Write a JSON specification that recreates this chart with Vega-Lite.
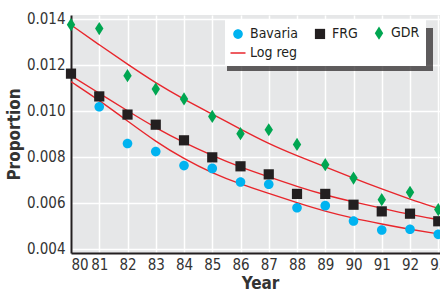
{
  "$schema": "https://vega.github.io/schema/vega-lite/v6.json",
  "autosize": {"type": "none"},
  "padding": {"left": 71, "top": 15, "right": 0, "bottom": 39},
  "width": 378,
  "height": 238,
  "background": "white",
  "config": {
    "font": "Liberation Sans Narrow, DejaVu Sans Condensed, Liberation Sans",
    "view": {"fill": "#e6e7e8", "stroke": null},
    "axis": {
      "grid": true,
      "gridColor": "#ffffff",
      "gridWidth": 1.5,
      "ticks": false,
      "domainColor": "#231f20",
      "domainWidth": 2,
      "labelFontSize": 15,
      "labelColor": "#333333",
      "titleFontSize": 17,
      "titleFontWeight": "bold",
      "titleColor": "#333333"
    }
  },
  "datasets": {
    "points": [
      {"year": 81, "series": "Bavaria", "value": 0.01017},
      {"year": 82, "series": "Bavaria", "value": 0.00857},
      {"year": 83, "series": "Bavaria", "value": 0.00822},
      {"year": 84, "series": "Bavaria", "value": 0.00761},
      {"year": 85, "series": "Bavaria", "value": 0.00749},
      {"year": 86, "series": "Bavaria", "value": 0.0069},
      {"year": 87, "series": "Bavaria", "value": 0.0068},
      {"year": 88, "series": "Bavaria", "value": 0.00578},
      {"year": 89, "series": "Bavaria", "value": 0.00587},
      {"year": 90, "series": "Bavaria", "value": 0.0052},
      {"year": 91, "series": "Bavaria", "value": 0.00481},
      {"year": 92, "series": "Bavaria", "value": 0.00484},
      {"year": 93, "series": "Bavaria", "value": 0.00462},
      {"year": 80, "series": "FRG", "value": 0.01161},
      {"year": 81, "series": "FRG", "value": 0.01062},
      {"year": 82, "series": "FRG", "value": 0.00983},
      {"year": 83, "series": "FRG", "value": 0.00939},
      {"year": 84, "series": "FRG", "value": 0.00871},
      {"year": 85, "series": "FRG", "value": 0.00797},
      {"year": 86, "series": "FRG", "value": 0.00758},
      {"year": 87, "series": "FRG", "value": 0.00723},
      {"year": 88, "series": "FRG", "value": 0.00638},
      {"year": 89, "series": "FRG", "value": 0.00638},
      {"year": 90, "series": "FRG", "value": 0.00591},
      {"year": 91, "series": "FRG", "value": 0.00562},
      {"year": 92, "series": "FRG", "value": 0.00552},
      {"year": 93, "series": "FRG", "value": 0.00519},
      {"year": 80, "series": "GDR", "value": 0.01374},
      {"year": 81, "series": "GDR", "value": 0.01357},
      {"year": 82, "series": "GDR", "value": 0.01152},
      {"year": 83, "series": "GDR", "value": 0.01094},
      {"year": 84, "series": "GDR", "value": 0.01051},
      {"year": 85, "series": "GDR", "value": 0.00975},
      {"year": 86, "series": "GDR", "value": 0.009},
      {"year": 87, "series": "GDR", "value": 0.00917},
      {"year": 88, "series": "GDR", "value": 0.00853},
      {"year": 89, "series": "GDR", "value": 0.00765},
      {"year": 90, "series": "GDR", "value": 0.00707},
      {"year": 91, "series": "GDR", "value": 0.00613},
      {"year": 92, "series": "GDR", "value": 0.00645},
      {"year": 93, "series": "GDR", "value": 0.0057}
    ],
    "fits": [
      {"year": 80, "series": "Bavaria", "value": 0.01126},
      {"year": 81, "series": "Bavaria", "value": 0.01045},
      {"year": 82, "series": "Bavaria", "value": 0.00955},
      {"year": 83, "series": "Bavaria", "value": 0.00865},
      {"year": 84, "series": "Bavaria", "value": 0.0079},
      {"year": 85, "series": "Bavaria", "value": 0.00728},
      {"year": 86, "series": "Bavaria", "value": 0.0068},
      {"year": 87, "series": "Bavaria", "value": 0.0064},
      {"year": 88, "series": "Bavaria", "value": 0.006},
      {"year": 89, "series": "Bavaria", "value": 0.00562},
      {"year": 90, "series": "Bavaria", "value": 0.00532},
      {"year": 91, "series": "Bavaria", "value": 0.00507},
      {"year": 92, "series": "Bavaria", "value": 0.00484},
      {"year": 93, "series": "Bavaria", "value": 0.00464},
      {"year": 80, "series": "FRG", "value": 0.01152},
      {"year": 81, "series": "FRG", "value": 0.01076},
      {"year": 82, "series": "FRG", "value": 0.00999},
      {"year": 83, "series": "FRG", "value": 0.00925},
      {"year": 84, "series": "FRG", "value": 0.00861},
      {"year": 85, "series": "FRG", "value": 0.00805},
      {"year": 86, "series": "FRG", "value": 0.00754},
      {"year": 87, "series": "FRG", "value": 0.00712},
      {"year": 88, "series": "FRG", "value": 0.0067},
      {"year": 89, "series": "FRG", "value": 0.00633},
      {"year": 90, "series": "FRG", "value": 0.00603},
      {"year": 91, "series": "FRG", "value": 0.00576},
      {"year": 92, "series": "FRG", "value": 0.00548},
      {"year": 93, "series": "FRG", "value": 0.00526},
      {"year": 80, "series": "GDR", "value": 0.01373},
      {"year": 81, "series": "GDR", "value": 0.01286},
      {"year": 82, "series": "GDR", "value": 0.01202},
      {"year": 83, "series": "GDR", "value": 0.0112},
      {"year": 84, "series": "GDR", "value": 0.01049},
      {"year": 85, "series": "GDR", "value": 0.00985},
      {"year": 86, "series": "GDR", "value": 0.0092},
      {"year": 87, "series": "GDR", "value": 0.00856},
      {"year": 88, "series": "GDR", "value": 0.00804},
      {"year": 89, "series": "GDR", "value": 0.00756},
      {"year": 90, "series": "GDR", "value": 0.00706},
      {"year": 91, "series": "GDR", "value": 0.00659},
      {"year": 92, "series": "GDR", "value": 0.00615},
      {"year": 93, "series": "GDR", "value": 0.00575}
    ]
  },
  "encoding": {
    "x": {
      "field": "year",
      "type": "quantitative",
      "title": "Year",
      "scale": {"domain": [80, 93.38], "nice": false, "zero": false},
      "axis": {"values": [80, 81, 82, 83, 84, 85, 86, 87, 88, 89, 90, 91, 92, 93], "format": "d", "labelPadding": 4, "titlePadding": 3}
    },
    "y": {
      "field": "value",
      "type": "quantitative",
      "title": "Proportion",
      "scale": {"domain": [0.00381, 0.01416], "nice": false, "zero": false},
      "axis": {"values": [0.004, 0.006, 0.008, 0.01, 0.012, 0.014], "format": ".3f", "labelPadding": 6, "titlePadding": 3}
    }
  },
  "layer": [
    {
      "data": {"name": "points"},
      "mark": {"type": "point", "filled": true},
      "encoding": {
        "size": {"value": 0},
        "color": {
          "field": "value",
          "type": "quantitative",
          "scale": {"range": ["#231f20", "#231f20"]},
          "legend": {
            "type": "gradient",
            "direction": "horizontal",
            "orient": "none",
            "legendX": 156,
            "legendY": 13,
            "gradientLength": 206,
            "gradientThickness": 43,
            "gradientStrokeWidth": 0,
            "labelExpr": "''",
            "labelOpacity": 0,
            "labelFontSize": 1,
            "labelOffset": 0,
            "tickCount": 2,
            "title": null,
            "padding": 0
          }
        }
      }
    },
    {
      "data": {"name": "fits"},
      "mark": {"type": "line", "strokeWidth": 1.4, "interpolate": "basis", "clip": true},
      "encoding": {
        "detail": {"field": "series"},
        "stroke": {"value": "#e8262c"}
      }
    },
    {
      "data": {"name": "points"},
      "mark": {"type": "point", "filled": true, "size": 144, "opacity": 1, "strokeWidth": 0},
      "encoding": {
        "fill": {
          "field": "series",
          "type": "nominal",
          "scale": {"domain": ["Bavaria", "FRG", "GDR", "Log reg"], "range": ["#00b3f0", "#231f20", "#00a651", "transparent"]},
          "legend": {
            "title": null,
            "orient": "none",
            "legendX": 154,
            "legendY": 5,
            "direction": "horizontal",
            "columns": 3,
            "fillColor": "white",
            "padding": 6,
            "symbolSize": 144,
            "symbolStrokeWidth": 1.5,
            "labelFontSize": 14,
            "labelColor": "#231f20",
            "labelOffset": 5,
            "columnPadding": 13,
            "rowPadding": 3
          }
        },
        "stroke": {
          "field": "series",
          "type": "nominal",
          "scale": {"domain": ["Bavaria", "FRG", "GDR", "Log reg"], "range": ["transparent", "transparent", "transparent", "#e8262c"]}
        },
        "shape": {
          "field": "series",
          "type": "nominal",
          "scale": {
            "domain": ["Bavaria", "FRG", "GDR", "Log reg"],
            "range": [
              "M-0.8,0A0.8,0.8,0,1,1,0.8,0A0.8,0.8,0,1,1,-0.8,0Z",
              "M-0.85,-0.85H0.85V0.85H-0.85Z",
              "M0,-1.1L0.7,0L0,1.1L-0.7,0Z",
              "M-1.25,0H1.25"
            ]
          }
        }
      }
    }
  ]
}
